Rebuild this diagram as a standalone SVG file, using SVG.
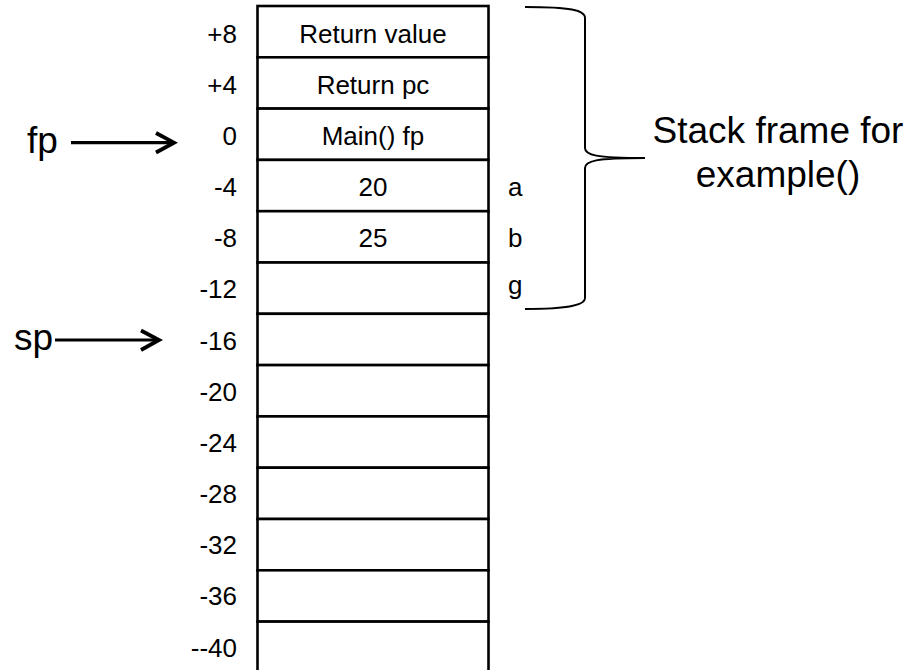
<svg xmlns="http://www.w3.org/2000/svg" width="919" height="670" viewBox="0 0 919 670">
<style>
.cell{fill:#fff;stroke:#000;stroke-width:2.6}
.t{font-family:"Liberation Sans",Arial,sans-serif;font-size:26px;fill:#000}
.off{text-anchor:end}
.mid{text-anchor:middle}
.big{font-family:"Liberation Sans",Arial,sans-serif;font-size:37px;fill:#000}
.ln{fill:none;stroke:#000;stroke-width:3.2}
.hd{fill:none;stroke:#000;stroke-width:3.8;stroke-linejoin:miter}
.br{fill:none;stroke:#000;stroke-width:2}
</style>
<rect width="919" height="670" fill="#fff"/>
<g id="stack">
<rect class="cell" x="257.5" y="6" width="231" height="51.3"/>
<rect class="cell" x="257.5" y="57.3" width="231" height="51.3"/>
<rect class="cell" x="257.5" y="108.6" width="231" height="51.3"/>
<rect class="cell" x="257.5" y="159.9" width="231" height="51.3"/>
<rect class="cell" x="257.5" y="211.2" width="231" height="51.3"/>
<rect class="cell" x="257.5" y="262.5" width="231" height="51.3"/>
<rect class="cell" x="257.5" y="313.8" width="231" height="51.3"/>
<rect class="cell" x="257.5" y="365.1" width="231" height="51.3"/>
<rect class="cell" x="257.5" y="416.4" width="231" height="51.3"/>
<rect class="cell" x="257.5" y="467.7" width="231" height="51.3"/>
<rect class="cell" x="257.5" y="519" width="231" height="51.3"/>
<rect class="cell" x="257.5" y="570.3" width="231" height="51.3"/>
<rect class="cell" x="257.5" y="621.6" width="231" height="60"/>
</g>
<g id="cell-text" class="t mid">
<text x="373" y="43">Return value</text>
<text x="373" y="94">Return pc</text>
<text x="373" y="145">Main() fp</text>
<text x="373" y="196">20</text>
<text x="373" y="247">25</text>
</g>
<g id="offsets" class="t off">
<text x="237" y="43">+8</text>
<text x="237" y="94">+4</text>
<text x="237" y="145">0</text>
<text x="237" y="196">-4</text>
<text x="237" y="247">-8</text>
<text x="237" y="298">-12</text>
<text x="237" y="350">-16</text>
<text x="237" y="401">-20</text>
<text x="237" y="452">-24</text>
<text x="237" y="503">-28</text>
<text x="237" y="554">-32</text>
<text x="237" y="605">-36</text>
<text x="237" y="657">--40</text>
</g>
<g id="vars" class="t">
<text x="508" y="196">a</text>
<text x="508" y="247">b</text>
<text x="508" y="294">g</text>
</g>
<g id="fp"><text class="big" x="27" y="153">fp</text></g>
<g id="sp"><text class="big" x="14" y="350">sp</text></g>
<g id="frame-label" class="big mid">
<text x="778" y="143">Stack frame for</text>
<text x="778" y="187">example()</text>
</g>
<g id="connectors">
<path class="ln" d="M71 142.7H172"/>
<path class="hd" d="M156 133L174 142.7L156 152.5"/>
<path class="ln" d="M55 340H157"/>
<path class="hd" d="M141 330.5L159 340L141 350"/>
<path class="br" d="M525 7C570 7 585 10 585 18V148C585 155 595 158 645 158C595 158 585 161 585 168V298C585 305 570 309 525 309"/>
</g>
</svg>
